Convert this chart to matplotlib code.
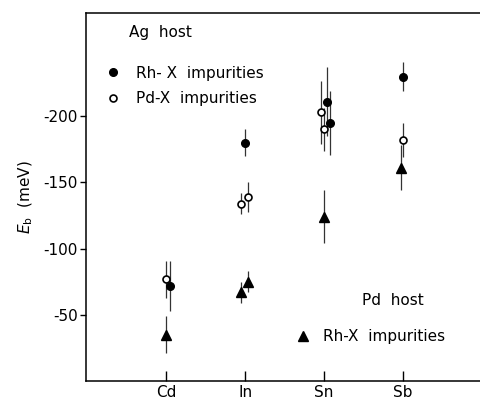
import matplotlib
matplotlib.use("Agg")
import matplotlib.pyplot as plt
from matplotlib.lines import Line2D

# impurity positions on the x axis
elements = ["Cd", "In", "Sn", "Sb"]
elem_pos = [1, 2, 3, 4]

# Ag host, Rh-X impurities (filled circles)
rh_ag_x = [1.05, 2.0, 3.03, 3.08, 4.0]
rh_ag_y = [-72, -180, -211, -195, -230]
rh_ag_err = [19, 10, 26, 24, 11]

# Ag host, Pd-X impurities (open circles)
pd_ag_x = [0.99, 1.95, 2.03, 2.96, 3.0, 4.0]
pd_ag_y = [-77, -134, -139, -203, -190, -182]
pd_ag_err = [14, 8, 11, 24, 16, 13]

# Pd host, Rh-X impurities (triangles)
rh_pd_x = [1.0, 1.95, 2.03, 3.0, 3.98]
rh_pd_y = [-35, -67, -75, -124, -161]
rh_pd_err = [14, 8, 8, 20, 17]

y_ticks = [-200, -150, -100, -50]

plt.rcParams['font.family'] = ['DejaVu Sans']
plt.rcParams['font.size'] = 11
plt.rcParams['axes.unicode_minus'] = False

fig = plt.figure(figsize=(4.8, 4.0), dpi=100)
ax = fig.add_axes([0.179, 0.0475, 0.83, 0.92])

ekw = dict(fmt='none', ecolor='#333333', elinewidth=0.9, capsize=0)
ax.errorbar(rh_ag_x, rh_ag_y, yerr=rh_ag_err, **ekw)
ax.errorbar(pd_ag_x, pd_ag_y, yerr=pd_ag_err, **ekw)
ax.errorbar(rh_pd_x, rh_pd_y, yerr=rh_pd_err, **ekw)

ax.plot(rh_ag_x, rh_ag_y, 'o', color='black', ms=5.5, ls='none')
ax.plot(pd_ag_x, pd_ag_y, 'o', mfc='white', mec='black', mew=1.2, ms=5, ls='none')
ax.plot(rh_pd_x, rh_pd_y, '^', color='black', ms=7.5, ls='none')

ax.set_xlim(-0.02, 5.03)
ax.set_ylim(0, -278)
ax.set_xticks(elem_pos)
ax.set_xticklabels(elements)
ax.set_yticks(y_ticks)
ax.tick_params(axis='x', direction='in', length=7, width=1, pad=3)
ax.tick_params(axis='y', direction='out', length=4, width=1, pad=2)
ax.spines['right'].set_visible(False)
for s in ['left', 'top', 'bottom']:
    ax.spines[s].set_linewidth(1.1)

ax.set_ylabel(r'$E_\mathrm{b}$  (meV)', labelpad=6)

ax.text(0.107, 0.946, 'Ag  host', transform=ax.transAxes, va='center', ha='left')
h1 = [Line2D([], [], marker='o', color='black', ms=5.5, ls='none'),
      Line2D([], [], marker='o', mfc='white', mec='black', mew=1.2, ms=5, ls='none')]
leg1 = ax.legend(h1, ['Rh- X  impurities', 'Pd-X  impurities'], loc='upper left',
                 bbox_to_anchor=(0.048, 0.857), frameon=False, handlelength=1,
                 handletextpad=1.0, labelspacing=0.7, borderpad=0, borderaxespad=0)
ax.add_artist(leg1)

ax.text(0.693, 0.22, 'Pd  host', transform=ax.transAxes, va='center', ha='left')
h2 = [Line2D([], [], marker='^', color='black', ms=7.5, ls='none')]
ax.legend(h2, ['Rh-X  impurities'], loc='upper left', bbox_to_anchor=(0.525, 0.141),
          frameon=False, handlelength=1, handletextpad=0.8, borderpad=0, borderaxespad=0)

fig.savefig('out.png', dpi=100)
